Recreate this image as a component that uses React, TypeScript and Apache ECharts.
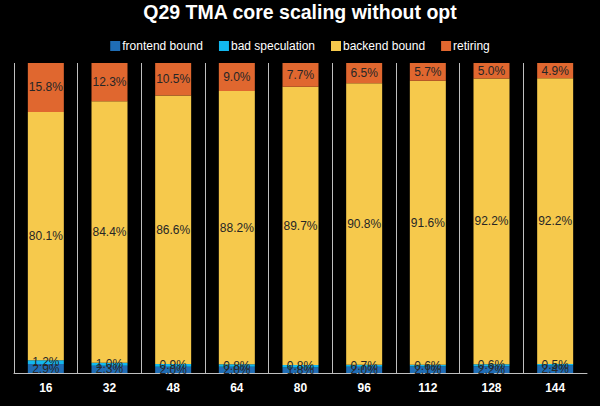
import React, { useEffect, useRef } from "react";
import * as echarts from "echarts";

const categories = ["16", "32", "48", "64", "80", "96", "112", "128", "144"];
const frontendBound = [2.9, 2.3, 2.0, 2.0, 1.8, 2.0, 2.1, 2.2, 2.4];
const badSpeculation = [1.2, 1.0, 0.9, 0.8, 0.8, 0.7, 0.6, 0.6, 0.5];
const backendBound = [80.1, 84.4, 86.6, 88.2, 89.7, 90.8, 91.6, 92.2, 92.2];
const retiring = [15.8, 12.3, 10.5, 9.0, 7.7, 6.5, 5.7, 5.0, 4.9];

const seriesDefs = [
  { name: "frontend bound", data: frontendBound, color: "#1f6db5" },
  { name: "bad speculation", data: badSpeculation, color: "#12b8ef" },
  { name: "backend bound", data: backendBound, color: "#f6c94c" },
  { name: "retiring", data: retiring, color: "#e0672f" },
];

export default function App() {
  const ref = useRef<HTMLDivElement>(null);
  useEffect(() => {
    if (!ref.current) return;
    const chart = echarts.init(ref.current, null, { renderer: "svg" });
    const lineColors = categories.map(() => "#bfbfbf").concat(["rgba(0,0,0,0)"]);
    chart.setOption({
      animation: false,
      backgroundColor: "#000000",
      textStyle: { fontFamily: "Liberation Sans, Arial, sans-serif" },
      title: {
        text: "Q29 TMA core scaling without opt",
        left: "center",
        top: -3,
        textStyle: { color: "#ffffff", fontSize: 19.5, fontWeight: "bold" },
      },
      legend: {
        top: 35,
        left: "center",
        itemWidth: 10,
        itemHeight: 10,
        itemGap: 16,
        icon: "rect",
        textStyle: { color: "#ffffff", fontSize: 12, padding: [0, 0, 0, -3] },
        data: seriesDefs.map((s) => s.name),
      },
      grid: { left: 14, right: 13, top: 63, bottom: 33 },
      xAxis: {
        type: "category",
        data: categories,
        axisLine: { show: true, lineStyle: { color: "#bfbfbf", width: 1 } },
        axisTick: { show: false },
        axisLabel: { color: "#ffffff", fontSize: 12, fontWeight: "bold", margin: 9 },
        splitLine: { show: true, lineStyle: { color: lineColors, width: 1 } },
      },
      yAxis: {
        type: "value",
        min: 0,
        max: 100,
        show: false,
        splitLine: { show: false },
      },
      series: seriesDefs.map((s) => ({
        name: s.name,
        type: "bar",
        stack: "total",
        barWidth: 36,
        data: s.data,
        itemStyle: { color: s.color },
        label: {
          show: true,
          position: "inside",
          color: "#262626",
          fontSize: 12,
          formatter: (p: any) => p.value.toFixed(1) + "%",
        },
      })),
    });
    return () => chart.dispose();
  }, []);
  return (
    <div
      ref={ref}
      style={{ position: "fixed", left: 0, top: 0, width: 600, height: 406, background: "#000" }}
    />
  );
}
